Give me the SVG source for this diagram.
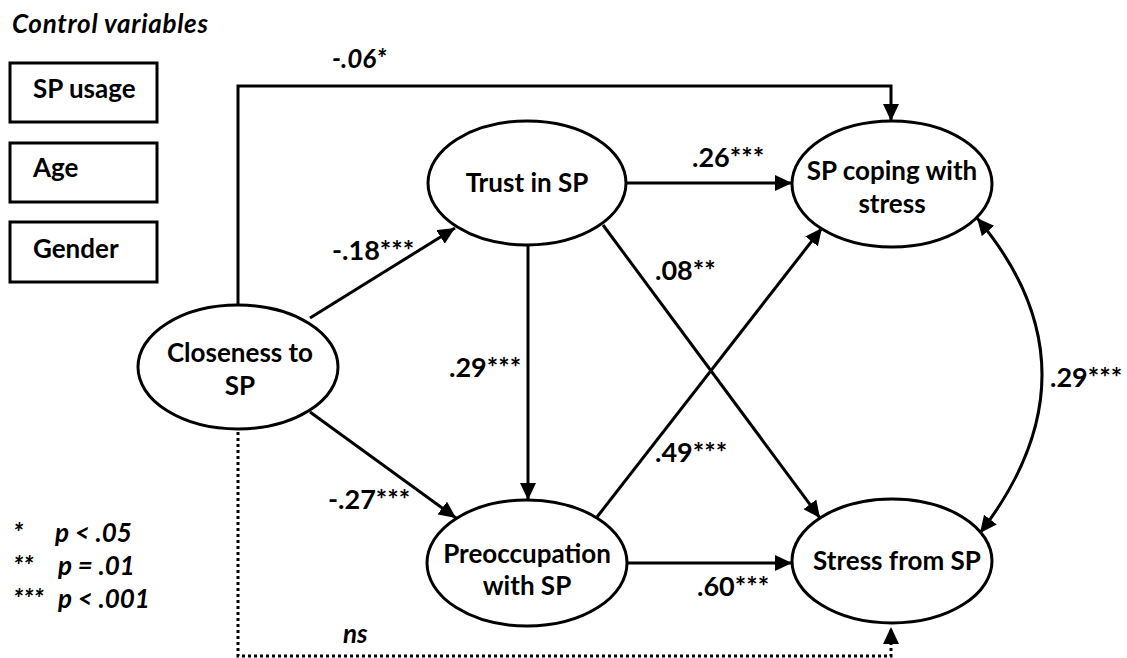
<svg xmlns="http://www.w3.org/2000/svg" width="1127" height="658" viewBox="0 0 1127 658">
<defs>
<marker id="arr" markerUnits="userSpaceOnUse" markerWidth="17" markerHeight="16" refX="17" refY="8" orient="auto-start-reverse" viewBox="0 0 17 16">
<path d="M0,0 L17,8 L0,16 z" fill="#000"/>
</marker>
<style>
.node ellipse, .node rect { fill: #fff; stroke: #000; stroke-width: 3; }
.lbl { font-family: Lato, "Liberation Sans", sans-serif; font-weight: bold; font-size: 26px; fill: #000; text-anchor: middle; }
.box { font-family: Lato, "Liberation Sans", sans-serif; font-weight: bold; font-size: 26px; fill: #000; }
.coef { font-family: Lato, "Liberation Sans", sans-serif; font-weight: bold; font-size: 27px; fill: #000; }
.ital { font-family: Lato, "Liberation Sans", sans-serif; font-weight: bold; font-style: italic; font-size: 26px; fill: #000; }
.edge { fill: none; stroke: #000; stroke-width: 3; }
.dot { fill: none; stroke: #000; stroke-width: 3; stroke-dasharray: 3 3; }
</style>
</defs>
<rect width="1127" height="658" fill="#fff"/>

<text class="ital" x="12" y="33" textLength="196" lengthAdjust="spacing">Control variables</text>

<g id="ctrl-usage" class="node"><rect x="10" y="63" width="147" height="59"/><text class="box" x="33" y="98">SP usage</text></g>
<g id="ctrl-age" class="node"><rect x="10" y="143" width="147" height="59"/><text class="box" x="33" y="177">Age</text></g>
<g id="ctrl-gender" class="node"><rect x="10" y="222" width="147" height="60"/><text class="box" x="33" y="258">Gender</text></g>

<g id="connectors">
<path class="edge" d="M238,305 V86 H891 V121" marker-end="url(#arr)"/>
<path class="edge" d="M310,318 L455,228" marker-end="url(#arr)"/>
<path class="edge" d="M310,412 L456,518" marker-end="url(#arr)"/>
<path class="edge" d="M626,183 L792,183" marker-end="url(#arr)"/>
<path class="edge" d="M528,246 L528,500" marker-end="url(#arr)"/>
<path class="edge" d="M603,225 L820,518" marker-end="url(#arr)"/>
<path class="edge" d="M597,517 L822,228" marker-end="url(#arr)"/>
<path class="edge" d="M627,563 L792,563" marker-end="url(#arr)"/>
<path class="edge" d="M977,218 Q1105.5,370.5 980,533" marker-start="url(#arr)" marker-end="url(#arr)"/>
<path class="dot" d="M238,432 V656 H891 V627" marker-end="url(#arr)"/>
</g>

<g id="closeness" class="node"><ellipse cx="238" cy="367" rx="100" ry="62"/><text class="lbl" x="240" y="362">Closeness to</text><text class="lbl" x="240" y="395">SP</text></g>
<g id="trust" class="node"><ellipse cx="527" cy="183" rx="99" ry="62"/><text class="lbl" x="527" y="192">Trust in SP</text></g>
<g id="coping" class="node"><ellipse cx="892" cy="184" rx="100" ry="63"/><text class="lbl" x="892" y="180">SP coping with</text><text class="lbl" x="892" y="213">stress</text></g>
<g id="preocc" class="node"><ellipse cx="527" cy="563" rx="100" ry="63"/><text class="lbl" x="527" y="563">Preoccupation</text><text class="lbl" x="527" y="595">with SP</text></g>
<g id="stress" class="node"><ellipse cx="892" cy="561" rx="100" ry="62"/><text class="lbl" x="897" y="570">Stress from SP</text></g>

<g id="coefficients">
<text class="ital" x="332" y="68">-.06*</text>
<text class="coef" x="332" y="260">-.18***</text>
<text class="coef" x="328" y="509">-.27***</text>
<text class="coef" x="692" y="167">.26***</text>
<text class="coef" x="449" y="377">.29***</text>
<text class="coef" x="655" y="280">.08**</text>
<text class="coef" x="655" y="462">.49***</text>
<text class="coef" x="697" y="596">.60***</text>
<text class="coef" x="1050" y="387">.29***</text>
<text class="ital" x="343" y="643">ns</text>
</g>

<g id="legend">
<text class="ital" x="13" y="542">*</text><text class="ital" x="55" y="542">p &lt; .05</text>
<text class="ital" x="13" y="575">**</text><text class="ital" x="58" y="575">p = .01</text>
<text class="ital" x="13" y="608">***</text><text class="ital" x="58" y="608">p &lt; .001</text>
</g>
</svg>
